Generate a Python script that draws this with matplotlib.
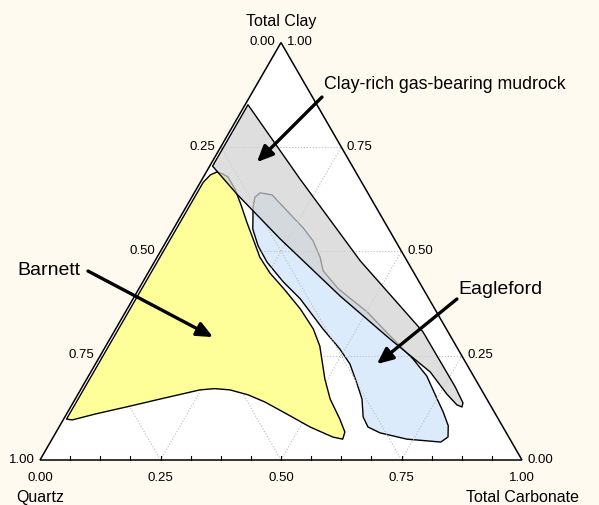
import numpy as np
import matplotlib.pyplot as plt
from matplotlib.patches import Polygon

plt.rcParams['font.family'] = ['Liberation Sans', 'DejaVu Sans']

# Field outlines as (clay, carbonate) fractions, quartz = 1 - clay - carbonate
barnett_clay = [0.665, 0.683, 0.690, 0.685, 0.678, 0.649, 0.613, 0.570, 0.530, 0.486,
                0.448, 0.410, 0.362, 0.314, 0.273, 0.194, 0.146, 0.098, 0.067, 0.050,
                0.055, 0.079, 0.115, 0.139, 0.156, 0.168, 0.171, 0.168, 0.146, 0.129,
                0.110, 0.096, 0.098]
barnett_carb = [0.006, 0.012, 0.022, 0.037, 0.051, 0.080, 0.110, 0.144, 0.177, 0.213,
                0.253, 0.301, 0.359, 0.410, 0.444, 0.494, 0.529, 0.573, 0.599, 0.603,
                0.580, 0.521, 0.447, 0.397, 0.354, 0.310, 0.277, 0.248, 0.176, 0.122,
                0.059, 0.019, 0.006]

mudrock_clay = [0.851, 0.673, 0.477, 0.307, 0.175, 0.137, 0.127, 0.132, 0.158, 0.211,
                0.290, 0.393, 0.530, 0.637, 0.704]
mudrock_carb = [0.006, 0.203, 0.426, 0.641, 0.774, 0.809, 0.812, 0.799, 0.765, 0.704,
                0.581, 0.426, 0.233, 0.090, 0.006]

eagleford_clay = [0.640, 0.635, 0.597, 0.556, 0.525, 0.486, 0.453, 0.410, 0.355, 0.297,
                  0.242, 0.201, 0.146, 0.115, 0.082, 0.055, 0.043, 0.050, 0.065, 0.079,
                  0.103, 0.146, 0.182, 0.230, 0.266, 0.314, 0.386, 0.427, 0.474, 0.513,
                  0.553, 0.606, 0.630]
eagleford_carb = [0.137, 0.164, 0.214, 0.268, 0.304, 0.338, 0.361, 0.414, 0.501, 0.578,
                  0.653, 0.702, 0.751, 0.779, 0.806, 0.819, 0.810, 0.736, 0.673, 0.641,
                  0.619, 0.595, 0.567, 0.528, 0.489, 0.430, 0.347, 0.291, 0.234, 0.196,
                  0.165, 0.139, 0.131]

tick_values = [0.00, 0.25, 0.50, 0.75, 1.00]
tick_labels = ["0.00", "0.25", "0.50", "0.75", "1.00"]

H = np.sqrt(3) / 2


def tern(clay, carb):
    clay = np.asarray(clay, dtype=float)
    carb = np.asarray(carb, dtype=float)
    return np.column_stack([carb + clay / 2, clay * H])


fig = plt.figure(figsize=(5.99, 5.06), dpi=100)
fig.patch.set_facecolor('#FFFAF0')
ax = fig.add_axes([0, 0, 1, 1])
ax.set_xlim(-40 / 482, 559 / 482)
ax.set_ylim(-45 / 482, 461 / 482)
ax.axis('off')

corners = tern([0, 0, 1], [0, 1, 0])
ax.add_patch(Polygon(corners, closed=True, facecolor='white', edgecolor='none', zorder=0))

# Eagleford first so the grid shows through it
ax.add_patch(Polygon(tern(eagleford_clay, eagleford_carb), closed=True,
                     facecolor='#DCEBFB', edgecolor='black', lw=1.0,
                     joinstyle='round', zorder=1))

# dotted grid
for v in tick_values[1:4]:
    for seg in (tern([v, v], [0, 1 - v]),
                tern([0, 1 - v], [v, v]),
                tern([0, 1 - v], [1 - v, 0])):
        ax.plot(seg[:, 0], seg[:, 1], ls=':', color='#BDBDBD', lw=0.8, zorder=2)

ax.add_patch(Polygon(tern(barnett_clay, barnett_carb), closed=True,
                     facecolor='#FFFF99', edgecolor='black', lw=1.0,
                     joinstyle='round', zorder=3))
ax.add_patch(Polygon(tern(mudrock_clay, mudrock_carb), closed=True,
                     facecolor='#D2D2D2', edgecolor='none', alpha=0.72, zorder=4))
ax.add_patch(Polygon(tern(mudrock_clay, mudrock_carb), closed=True,
                     facecolor='none', edgecolor='black', lw=1.0,
                     joinstyle='round', zorder=5))

# triangle frame and small ticks along the base
ax.add_patch(Polygon(corners, closed=True, facecolor='none', edgecolor='black',
                     lw=1.1, zorder=6))
for k in range(1, 16):
    ax.plot([k / 16, k / 16], [0, 4 / 482], color='black', lw=0.8, zorder=6)

tick_fs = 9.5
for v, lab in zip(tick_values, tick_labels):
    # carbonate along the base
    p = tern([0], [v])[0]
    ax.annotate(lab, p, xytext=(0, -12), textcoords='offset points',
                ha='center', va='center', fontsize=tick_fs)
    # quartz along the left side
    p = tern([1 - v], [0])[0]
    ax.annotate(lab, p, xytext=(-4, 1), textcoords='offset points',
                ha='right', va='center', fontsize=tick_fs)
    # clay along the right side
    p = tern([v], [1 - v])[0]
    ax.annotate(lab, p, xytext=(4, 1), textcoords='offset points',
                ha='left', va='center', fontsize=tick_fs)

title_fs = 11.5
ax.annotate("Total Clay", corners[2], xytext=(0, 16), textcoords='offset points',
            ha='center', va='center', fontsize=title_fs)
ax.annotate("Quartz", corners[0], xytext=(0, -26), textcoords='offset points',
            ha='center', va='center', fontsize=title_fs)
ax.annotate("Total Carbonate", corners[1], xytext=(0, -26), textcoords='offset points',
            ha='center', va='center', fontsize=title_fs)

arrow = dict(arrowstyle='-|>,head_length=0.6,head_width=0.27', mutation_scale=16,
             color='black', lw=2.4, shrinkA=0, shrinkB=0)
ax.annotate("", xy=(0.450, 0.618), xytext=(0.585, 0.753), arrowprops=arrow, zorder=7)
ax.text(0.589, 0.781, "Clay-rich gas-bearing mudrock", ha='left', va='center',
        fontsize=12.8, zorder=7)
ax.annotate("", xy=(0.359, 0.255), xytext=(0.0996, 0.392), arrowprops=arrow, zorder=7)
ax.text(0.085, 0.396, "Barnett", ha='right', va='center', fontsize=14, zorder=7)
ax.annotate("", xy=(0.699, 0.199), xytext=(0.865, 0.334), arrowprops=arrow, zorder=7)
ax.text(0.868, 0.355, "Eagleford", ha='left', va='center', fontsize=14, zorder=7)

fig.savefig("out.png", dpi=100, facecolor=fig.get_facecolor())
